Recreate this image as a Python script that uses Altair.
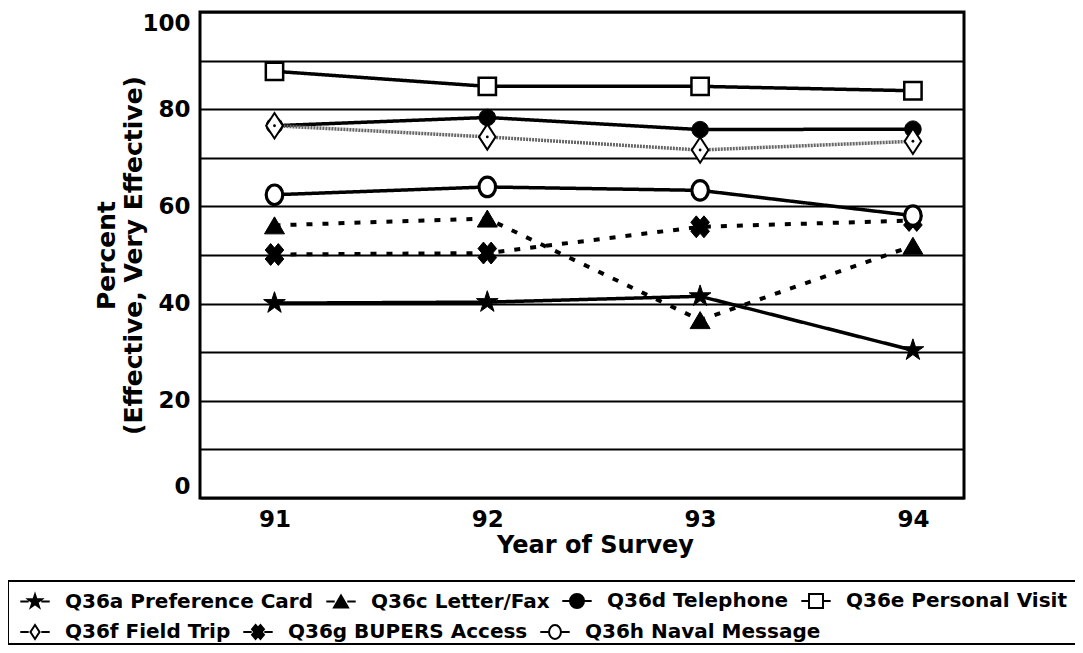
import altair as alt
import pandas as pd

years = [91, 92, 93, 94]
series_names = [
    "Q36a Preference Card",
    "Q36c Letter/Fax",
    "Q36d Telephone",
    "Q36e Personal Visit",
    "Q36f Field Trip",
    "Q36g BUPERS Access",
    "Q36h Naval Message",
]
pref_card = [40.1, 40.3, 41.5, 30.4]
letter_fax = [56.1, 57.5, 36.6, 51.9]
telephone = [76.6, 78.3, 75.8, 75.9]
personal_visit = [87.8, 84.7, 84.7, 83.8]
field_trip = [76.6, 74.3, 71.6, 73.4]
bupers = [50.1, 50.4, 55.8, 57.1]
naval_msg = [62.4, 64.0, 63.3, 58.1]
all_values = [pref_card, letter_fax, telephone, personal_visit, field_trip, bupers, naval_msg]

rows = []
for name, vals in zip(series_names, all_values):
    for yr, v in zip(years, vals):
        rows.append({"year": yr, "pct": v, "series": name})
df = pd.DataFrame(rows)

STAR = "M0,-1L0.223,-0.307L0.951,-0.309L0.361,0.117L0.588,0.809L0,0.38L-0.588,0.809L-0.361,0.117L-0.951,-0.309L-0.223,-0.307Z"
TRI = "M0,-0.85L1,0.85L-1,0.85Z"
CIRC = "M1,0A1,1,0,1,1,-1,0A1,1,0,1,1,1,0Z"
SQ = "M-1,-1L1,-1L1,1L-1,1Z"
DIAM = "M0,-1L0.65,0L0,1L-0.65,0Z"
XS = "M-0.35,-1L0,-0.59L0.35,-1L0.85,-0.41L0.5,0L0.85,0.41L0.35,1L0,0.59L-0.35,1L-0.85,0.41L-0.5,0L-0.85,-0.41Z"
OCIRC = "M0,-1A0.85,1,0,1,1,0,1A0.85,1,0,1,1,0,-1Z"

marker_paths = [STAR, TRI, CIRC, SQ, DIAM, XS, OCIRC]
marker_fills = ["black", "black", "black", "white", "white", "black", "white"]
marker_sizes = [520, 400, 270, 300, 650, 480, 380]
marker_strokes = [1, 1, 1, 2.5, 2, 1, 3.2]
line_colors = ["black", "black", "black", "black", "#666666", "black", "black"]
line_widths = [3.5, 4, 3.5, 3.5, 3.5, 4, 3.5]
line_dashes = [[1, 0], [6, 10], [1, 0], [1, 0], [2, 1], [6, 10], [1, 0]]

SEG = "M-2.1,0L-0.9,0M0.9,0L2.1,0"
legend_paths = [SEG + p for p in marker_paths]

row1 = series_names[:4]
row2 = series_names[4:]

FONT = "DejaVu Sans"

x_enc = alt.X(
    "year:Q",
    scale=alt.Scale(domain=[90.65, 94.24], nice=False, zero=False),
    axis=alt.Axis(
        values=years, format="d", grid=False, ticks=False, domain=False,
        labelPadding=10, labelFontSize=23, titleFontSize=24, titlePadding=2,
        titleX=395, titleAlign="center",
    ),
    title="Year of Survey",
)
y_enc = alt.Y(
    "pct:Q",
    scale=alt.Scale(domain=[0, 100], nice=False),
    axis=alt.Axis(
        values=list(range(0, 101, 10)),
        labelExpr="datum.value % 20 == 0 ? datum.label : ''",
        labelFlush=True,
        grid=True, gridColor="black", gridWidth=2, gridOpacity=1,
        ticks=False, domain=False, labelPadding=10, labelFontSize=23,
        titleFontSize=25, titlePadding=-5, titleLineHeight=27,
    ),
    title=["Percent", "(Effective, Very Effective)"],
)

layers = []
for i, name in enumerate(series_names):
    d = df[df["series"] == name]
    layers.append(
        alt.Chart(d).mark_line(
            color=line_colors[i], strokeWidth=line_widths[i],
            strokeDash=line_dashes[i], strokeCap="butt",
        ).encode(x=x_enc, y=y_enc)
    )
for i, name in enumerate(series_names):
    d = df[df["series"] == name]
    layers.append(
        alt.Chart(d).mark_point(
            shape=marker_paths[i], fill=marker_fills[i], fillOpacity=1,
            stroke="black", strokeWidth=marker_strokes[i], size=marker_sizes[i], opacity=1,
        ).encode(x=x_enc, y=y_enc)
    )
    if name == "Q36f Field Trip":
        layers.append(
            alt.Chart(d).mark_point(shape="circle", filled=True, color="black", size=8, opacity=1)
            .encode(x=x_enc, y=y_enc)
        )


def legend_layer(names, boxed, ly):
    idx = [series_names.index(n) for n in names]
    if boxed:
        extra = dict(
            strokeColor="black", title="x", titleOrient="bottom", titleOpacity=0,
            titleFontSize=18, titlePadding=4,
        )
    else:
        extra = dict(title=None)
    leg = alt.Legend(
        orient="none", legendX=-192, legendY=ly, direction="horizontal",
        labelFont=FONT, labelFontSize=20, labelFontWeight="bold", labelColor="black",
        labelLimit=600, labelOffset=20, symbolOffset=7, columnPadding=8, padding=10,
        symbolSize=196, symbolStrokeWidth=2, symbolOpacity=1,
        **extra,
    )
    d = df[df["series"].isin(names)]
    return alt.Chart(d).mark_point(
        clip=True, strokeWidth=2, opacity=1, fillOpacity=1
    ).encode(
        x=alt.value(-400), y=alt.value(-400),
        shape=alt.Shape("series:N", scale=alt.Scale(domain=names, range=[legend_paths[i] for i in idx]), legend=leg),
        fill=alt.Fill("series:N", scale=alt.Scale(domain=names, range=[marker_fills[i] for i in idx]), legend=leg),
        stroke=alt.Stroke("series:N", scale=alt.Scale(domain=names, range=["black"] * len(names)), legend=leg),
    )


layers.append(legend_layer(row1, True, 569))
layers.append(legend_layer(row2, False, 600))

chart = alt.layer(*layers).resolve_scale(
    shape="independent", fill="independent", stroke="independent"
).properties(
    width=764, height=486,
    padding={"left": 192, "top": 4, "right": 111, "bottom": 147},
    autosize=alt.AutoSizeParams(type="none"),
).configure_view(stroke="black", strokeWidth=3).configure_axis(
    labelFont=FONT, titleFont=FONT, labelFontWeight="bold", titleFontWeight="bold",
    labelColor="black", titleColor="black",
).configure_legend(strokeWidth=2)

chart.save("out.html", embed_options={"renderer": "svg", "actions": False})
